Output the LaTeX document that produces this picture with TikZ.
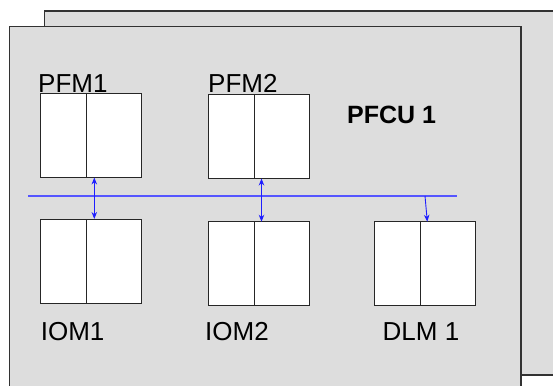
\documentclass[tikz,border=0pt]{standalone}
\usepackage{fontspec}
\setmainfont{Liberation Sans}
\usepackage{tikz}
\usetikzlibrary{positioning,arrows.meta}

\definecolor{unitgray}{RGB}{221,221,221}
\definecolor{edgegray}{RGB}{50,50,50}
\definecolor{busblue}{RGB}{85,85,255}
\definecolor{linkblue}{RGB}{30,30,255}

\begin{document}
\begin{tikzpicture}[x=1pt, y=-1pt,
	unit/.style={fill=unitgray, draw=edgegray, line width=1.1pt},
	halfl/.style={draw=black!85, fill=white, line width=0.9pt, minimum width=46pt, minimum height=84pt, inner sep=0pt, outer sep=0pt},
	halfr/.style={halfl, minimum width=55pt},
	modlabel/.style={anchor=base west, inner sep=0pt, font=\fontsize{26}{30}\selectfont},
	link/.style={linkblue, line width=0.9pt, arrows={Stealth[length=7pt,width=5.5pt]-Stealth[length=7pt,width=5.5pt]}},
	tap/.style={linkblue, line width=0.9pt, arrows={-Stealth[length=7pt,width=5.5pt]}}]

	\path[use as bounding box, clip] (0,0) rectangle (553,385);

	\draw[unit] (44.8,11) rectangle (580,375);
	\draw[unit] (9.5,26.7) rectangle (521,420);

	\node[halfl, anchor=north west] (pfm1l) at (40.3,93.5) {};
	\node[halfr, right=0pt of pfm1l] (pfm1r) {};
	\node[halfl, anchor=north west] (pfm2l) at (208.5,94.5) {};
	\node[halfr, right=0pt of pfm2l] (pfm2r) {};

	\node[halfl, anchor=north west] (iom1l) at (40.3,219) {};
	\node[halfr, right=0pt of iom1l] (iom1r) {};
	\node[halfl, anchor=north west] (iom2l) at (208.5,221.7) {};
	\node[halfr, right=0pt of iom2l] (iom2r) {};
	\node[halfl, anchor=north west] (dlm1l) at (374.6,221.7) {};
	\node[halfr, right=0pt of dlm1l] (dlm1r) {};

	\node[modlabel] (pfm1lbl) at (38,92.3) {PFM1};
	\node[modlabel] (pfm2lbl) at (208,92.3) {PFM2};
	\node[modlabel] (iom1lbl) at (40.6,340) {IOM1};
	\node[modlabel] (iom2lbl) at (205,340) {IOM2};
	\node[modlabel] (dlm1lbl) at (382.5,340) {DLM 1};
	\node[anchor=base west, inner sep=0pt, font=\fontsize{25}{29}\selectfont\bfseries] (pfcu) at (347,123) {PFCU 1};

	\coordinate (busl) at (28.2,196);
	\coordinate (busr) at (456.8,196);
	\coordinate (bustap) at (425,196);
	\draw[busblue, line width=1.2pt] (busl) -- (busr);

	\draw[link] ([xshift=8pt]pfm1r.south west) -- ([xshift=8pt]iom1r.north west);
	\draw[link] ([xshift=7pt]pfm2r.south west) -- ([xshift=7pt]iom2r.north west);
	\draw[tap] (bustap) -- ([xshift=6.7pt]dlm1r.north west);

\end{tikzpicture}
\end{document}
